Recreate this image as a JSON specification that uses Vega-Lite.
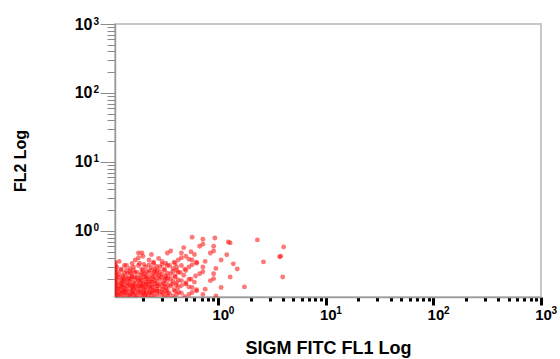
{
  "$schema": "https://vega.github.io/schema/vega-lite/v6.json",
  "width": 426,
  "height": 273,
  "autosize": "none",
  "padding": {"left": 115, "top": 24, "right": 19, "bottom": 62},
  "background": "white",
  "config": {"view": {"stroke": "#c8c8c8", "strokeWidth": 2}},
  "data": {"values": [
    {"x":0.114,"y":0.120},{"x":0.125,"y":0.111},{"x":0.134,"y":0.125},{"x":0.120,"y":0.130},{"x":0.130,"y":0.135},{"x":0.111,"y":0.134},{"x":0.123,"y":0.123},{"x":0.135,"y":0.114},{"x":0.117,"y":0.117},{"x":0.128,"y":0.128},
    {"x":0.151,"y":0.114},{"x":0.140,"y":0.125},{"x":0.158,"y":0.134},{"x":0.163,"y":0.120},{"x":0.170,"y":0.130},{"x":0.169,"y":0.111},{"x":0.154,"y":0.123},{"x":0.143,"y":0.135},{"x":0.147,"y":0.117},{"x":0.161,"y":0.128},
    {"x":0.212,"y":0.120},{"x":0.194,"y":0.111},{"x":0.181,"y":0.125},{"x":0.203,"y":0.130},{"x":0.185,"y":0.135},{"x":0.215,"y":0.134},{"x":0.199,"y":0.123},{"x":0.176,"y":0.114},{"x":0.206,"y":0.117},{"x":0.190,"y":0.128},
    {"x":0.227,"y":0.128},{"x":0.250,"y":0.135},{"x":0.267,"y":0.123},{"x":0.239,"y":0.117},{"x":0.258,"y":0.111},{"x":0.222,"y":0.114},{"x":0.244,"y":0.125},{"x":0.269,"y":0.134},{"x":0.233,"y":0.130},
    {"x":0.286,"y":0.120},{"x":0.315,"y":0.111},{"x":0.336,"y":0.125},{"x":0.300,"y":0.130},{"x":0.325,"y":0.135},{"x":0.279,"y":0.134},{"x":0.307,"y":0.123},{"x":0.340,"y":0.114},
    {"x":0.379,"y":0.114},{"x":0.352,"y":0.125},{"x":0.397,"y":0.134},{"x":0.410,"y":0.120},{"x":0.428,"y":0.130},
    {"x":0.533,"y":0.120},{"x":0.488,"y":0.111},{"x":0.454,"y":0.125},
    {"x":0.571,"y":0.128},{"x":0.628,"y":0.135},
    {"x":0.719,"y":0.120},{"x":0.950,"y":0.114},
    {"x":0.120,"y":0.143},{"x":0.111,"y":0.158},{"x":0.125,"y":0.169},{"x":0.130,"y":0.151},{"x":0.135,"y":0.163},{"x":0.134,"y":0.140},{"x":0.123,"y":0.154},{"x":0.114,"y":0.170},{"x":0.117,"y":0.147},{"x":0.128,"y":0.161},
    {"x":0.169,"y":0.151},{"x":0.154,"y":0.140},{"x":0.143,"y":0.158},{"x":0.161,"y":0.163},{"x":0.147,"y":0.170},{"x":0.170,"y":0.169},{"x":0.158,"y":0.154},{"x":0.140,"y":0.143},{"x":0.163,"y":0.147},{"x":0.151,"y":0.161},
    {"x":0.181,"y":0.161},{"x":0.199,"y":0.170},{"x":0.212,"y":0.154},{"x":0.190,"y":0.147},{"x":0.206,"y":0.140},{"x":0.176,"y":0.143},{"x":0.194,"y":0.158},{"x":0.215,"y":0.169},{"x":0.185,"y":0.163},{"x":0.203,"y":0.151},
    {"x":0.227,"y":0.151},{"x":0.250,"y":0.140},{"x":0.267,"y":0.158},{"x":0.239,"y":0.163},{"x":0.258,"y":0.170},{"x":0.222,"y":0.169},{"x":0.244,"y":0.154},{"x":0.269,"y":0.143},{"x":0.233,"y":0.147},
    {"x":0.300,"y":0.143},{"x":0.279,"y":0.158},{"x":0.315,"y":0.169},{"x":0.325,"y":0.151},{"x":0.340,"y":0.163},{"x":0.336,"y":0.140},{"x":0.307,"y":0.154},{"x":0.286,"y":0.170},
    {"x":0.424,"y":0.151},{"x":0.388,"y":0.140},{"x":0.361,"y":0.158},{"x":0.406,"y":0.163},{"x":0.370,"y":0.170},
    {"x":0.454,"y":0.161},{"x":0.499,"y":0.170},{"x":0.533,"y":0.154},
    {"x":0.571,"y":0.151},{"x":0.628,"y":0.140},
    {"x":0.755,"y":0.143},{"x":1.062,"y":0.151},
    {"x":0.134,"y":0.190},{"x":0.123,"y":0.176},{"x":0.114,"y":0.199},{"x":0.128,"y":0.206},{"x":0.117,"y":0.215},{"x":0.135,"y":0.212},{"x":0.125,"y":0.194},{"x":0.111,"y":0.181},{"x":0.130,"y":0.185},
    {"x":0.143,"y":0.203},{"x":0.158,"y":0.215},{"x":0.169,"y":0.194},{"x":0.151,"y":0.185},{"x":0.163,"y":0.176},{"x":0.140,"y":0.181},{"x":0.154,"y":0.199},{"x":0.170,"y":0.212},{"x":0.147,"y":0.206},
    {"x":0.181,"y":0.190},{"x":0.199,"y":0.176},{"x":0.212,"y":0.199},{"x":0.190,"y":0.206},{"x":0.206,"y":0.215},{"x":0.176,"y":0.212},{"x":0.194,"y":0.194},{"x":0.215,"y":0.181},{"x":0.185,"y":0.185},
    {"x":0.239,"y":0.181},{"x":0.222,"y":0.199},{"x":0.250,"y":0.212},{"x":0.258,"y":0.190},{"x":0.269,"y":0.206},{"x":0.267,"y":0.176},{"x":0.244,"y":0.194},{"x":0.227,"y":0.215},{"x":0.233,"y":0.185},
    {"x":0.336,"y":0.190},{"x":0.307,"y":0.176},{"x":0.286,"y":0.199},{"x":0.322,"y":0.206},{"x":0.293,"y":0.215},{"x":0.340,"y":0.212},{"x":0.315,"y":0.194},
    {"x":0.361,"y":0.203},{"x":0.397,"y":0.215},{"x":0.424,"y":0.194},{"x":0.379,"y":0.185},{"x":0.410,"y":0.176},
    {"x":0.454,"y":0.190},{"x":0.499,"y":0.176},{"x":0.533,"y":0.199},
    {"x":0.600,"y":0.181},{"x":0.557,"y":0.199},
    {"x":0.844,"y":0.190},{"x":0.905,"y":0.203},
    {"x":0.114,"y":0.255},{"x":0.125,"y":0.269},{"x":0.134,"y":0.244},{"x":0.120,"y":0.233},{"x":0.130,"y":0.222},{"x":0.111,"y":0.227},
    {"x":0.143,"y":0.239},{"x":0.158,"y":0.222},{"x":0.169,"y":0.250},{"x":0.151,"y":0.258},{"x":0.163,"y":0.269},{"x":0.140,"y":0.267},{"x":0.154,"y":0.244},
    {"x":0.190,"y":0.227},{"x":0.176,"y":0.250},{"x":0.199,"y":0.267},{"x":0.206,"y":0.239},{"x":0.215,"y":0.258},{"x":0.212,"y":0.222},{"x":0.194,"y":0.244},
    {"x":0.267,"y":0.239},{"x":0.244,"y":0.222},{"x":0.227,"y":0.250},{"x":0.255,"y":0.258},{"x":0.233,"y":0.269},{"x":0.269,"y":0.267},{"x":0.250,"y":0.244},
    {"x":0.286,"y":0.255},{"x":0.315,"y":0.269},{"x":0.336,"y":0.244},{"x":0.300,"y":0.233},{"x":0.325,"y":0.222},{"x":0.279,"y":0.227},
    {"x":0.361,"y":0.239},{"x":0.397,"y":0.222},{"x":0.424,"y":0.250},{"x":0.379,"y":0.258},{"x":0.410,"y":0.269},
    {"x":0.477,"y":0.227},{"x":0.443,"y":0.250},{"x":0.499,"y":0.267},
    {"x":0.671,"y":0.239},{"x":0.614,"y":0.222},
    {"x":0.719,"y":0.255},{"x":0.905,"y":0.239},
    {"x":0.114,"y":0.300},{"x":0.125,"y":0.279},{"x":0.134,"y":0.315},
    {"x":0.151,"y":0.286},{"x":0.140,"y":0.315},{"x":0.158,"y":0.336},{"x":0.163,"y":0.300},
    {"x":0.212,"y":0.300},{"x":0.194,"y":0.279},{"x":0.181,"y":0.315},{"x":0.203,"y":0.325},{"x":0.185,"y":0.340},
    {"x":0.227,"y":0.322},{"x":0.250,"y":0.340},{"x":0.267,"y":0.307},{"x":0.239,"y":0.293},{"x":0.258,"y":0.279},
    {"x":0.286,"y":0.300},{"x":0.315,"y":0.279},{"x":0.336,"y":0.315},{"x":0.300,"y":0.325},{"x":0.325,"y":0.340},
    {"x":0.379,"y":0.286},{"x":0.352,"y":0.315},{"x":0.397,"y":0.336},{"x":0.410,"y":0.300},
    {"x":0.533,"y":0.300},{"x":0.488,"y":0.279},{"x":0.454,"y":0.315},
    {"x":0.571,"y":0.322},{"x":0.628,"y":0.340},
    {"x":0.719,"y":0.300},{"x":0.950,"y":0.286},
    {"x":0.120,"y":0.361},{"x":0.169,"y":0.379},{"x":0.181,"y":0.406},{"x":0.199,"y":0.428},{"x":0.227,"y":0.379},{"x":0.250,"y":0.352},
    {"x":0.300,"y":0.361},{"x":0.279,"y":0.397},{"x":0.424,"y":0.379},{"x":0.388,"y":0.352},{"x":0.454,"y":0.406},{"x":0.499,"y":0.428},
    {"x":0.533,"y":0.388},{"x":0.571,"y":0.379},{"x":0.628,"y":0.352},{"x":0.755,"y":0.361},{"x":1.062,"y":0.379},
    {"x":0.181,"y":0.477},{"x":0.239,"y":0.454},{"x":0.336,"y":0.477},{"x":0.361,"y":0.510},{"x":0.454,"y":0.477},{"x":0.600,"y":0.454},
    {"x":0.557,"y":0.499},{"x":0.844,"y":0.477},{"x":0.905,"y":0.510},
    {"x":0.477,"y":0.571},{"x":0.671,"y":0.600},{"x":0.719,"y":0.642},{"x":0.905,"y":0.600},
    {"x":0.571,"y":0.808},{"x":0.719,"y":0.755},
    {"x":0.110,"y":0.115},{"x":0.110,"y":0.125},{"x":0.110,"y":0.135},{"x":0.110,"y":0.145},{"x":0.110,"y":0.155},{"x":0.110,"y":0.165},{"x":0.110,"y":0.180},{"x":0.110,"y":0.195},
    {"x":0.110,"y":0.210},{"x":0.110,"y":0.230},{"x":0.110,"y":0.250},{"x":0.110,"y":0.270},{"x":0.110,"y":0.290},{"x":0.110,"y":0.310},{"x":0.110,"y":0.330},{"x":0.110,"y":0.350},
    {"x":2.31,"y":0.74},{"x":4.05,"y":0.586},{"x":3.72,"y":0.42},{"x":2.63,"y":0.355},{"x":1.38,"y":0.333},{"x":3.97,"y":0.215},{"x":1.75,"y":0.154},{"x":1.29,"y":0.215},
    {"x":1.24,"y":0.69},{"x":0.93,"y":0.79},{"x":1.29,"y":0.67},{"x":3.8,"y":0.43},{"x":0.195,"y":0.48},{"x":1.2,"y":0.45},{"x":1.5,"y":0.28}
  ]},
  "layer": [
    {
      "mark": {"type": "point", "shape": "circle", "filled": true, "size": 24, "color": "#ff0a0a", "opacity": 0.55, "clip": true},
      "encoding": {
        "x": {
          "field": "x", "type": "quantitative",
          "scale": {"type": "log", "domain": [0.1096, 1000], "nice": false},
          "axis": {
            "title": "SIGM FITC FL1 Log",
            "values": [0.2,0.3,0.4,0.5,0.6,0.7,0.8,0.9,1,2,3,4,5,6,7,8,9,10,20,30,40,50,60,70,80,90,100,200,300,400,500,600,700,800,900,1000],
            "labelExpr": "indexof([1,10,100,1000], datum.value) >= 0 ? '10' : ''",
            "labelOverlap": false, "labelFlush": false, "labelBound": false,
            "grid": false,
            "domainColor": "#9a9a9a", "domainWidth": 1.5,
            "tickColor": "#000000", "tickWidth": 3,
            "tickSize": {"condition": {"test": "indexof([1,10,100,1000], datum.value) >= 0", "value": 8}, "value": 4},
            "labelFont": "Liberation Sans", "labelFontWeight": "bold", "labelFontSize": 15, "labelColor": "#000000", "labelPadding": 2, "labelOffset": 2,
            "titleFont": "Liberation Sans", "titleFontWeight": "bold", "titleFontSize": 18, "titleColor": "#000000", "titlePadding": 17
          }
        },
        "y": {
          "field": "y", "type": "quantitative",
          "scale": {"type": "log", "domain": [0.110, 1000], "nice": false},
          "axis": {
            "title": "FL2 Log",
            "values": [0.2,0.3,0.4,0.5,0.6,0.7,0.8,0.9,1,2,3,4,5,6,7,8,9,10,20,30,40,50,60,70,80,90,100,200,300,400,500,600,700,800,900,1000],
            "labelExpr": "indexof([1,10,100,1000], datum.value) >= 0 ? '10' : ''",
            "labelOverlap": false, "labelFlush": false, "labelBound": false,
            "grid": false,
            "domainColor": "#9a9a9a", "domainWidth": 1.5,
            "tickColor": "#8a8a8a", "tickWidth": 1,
            "tickSize": {"condition": {"test": "indexof([1,10,100,1000], datum.value) >= 0", "value": 15}, "value": 8},
            "labelFont": "Liberation Sans", "labelFontWeight": "bold", "labelFontSize": 16, "labelColor": "#000000", "labelPadding": 8,
            "titleFont": "Liberation Sans", "titleFontWeight": "bold", "titleFontSize": 16, "titleColor": "#000000", "titlePadding": 46
          }
        }
      }
    },
    {
      "mark": {"type": "point", "opacity": 0, "clip": true},
      "encoding": {
        "x": {
          "field": "x", "type": "quantitative",
          "scale": {"type": "log", "domain": [0.1096, 1000], "nice": false},
          "axis": {
            "orient": "bottom", "title": null,
            "values": [1,10,100,1000],
            "labelExpr": "datum.value == 1 ? '0' : datum.value == 10 ? '1' : datum.value == 100 ? '2' : '3'",
            "labelOverlap": false, "labelFlush": false, "labelBound": false,
            "grid": false, "ticks": false, "domain": false,
            "labelFont": "Liberation Sans", "labelFontWeight": "bold", "labelFontSize": 10, "labelColor": "#000000",
            "labelAlign": "left", "labelOffset": 10, "labelPadding": 8
          }
        },
        "y": {
          "field": "y", "type": "quantitative",
          "scale": {"type": "log", "domain": [0.110, 1000], "nice": false},
          "axis": {
            "orient": "left", "title": null,
            "values": [1,10,100,1000],
            "labelExpr": "datum.value == 1 ? '0' : datum.value == 10 ? '1' : datum.value == 100 ? '2' : '3'",
            "labelOverlap": false, "labelFlush": false, "labelBound": false,
            "grid": false, "ticks": false, "domain": false,
            "labelFont": "Liberation Sans", "labelFontWeight": "bold", "labelFontSize": 10, "labelColor": "#000000",
            "labelAlign": "left", "labelPadding": 22, "labelOffset": -3
          }
        }
      }
    }
  ],
  "resolve": {"axis": {"x": "independent", "y": "independent"}}
}
